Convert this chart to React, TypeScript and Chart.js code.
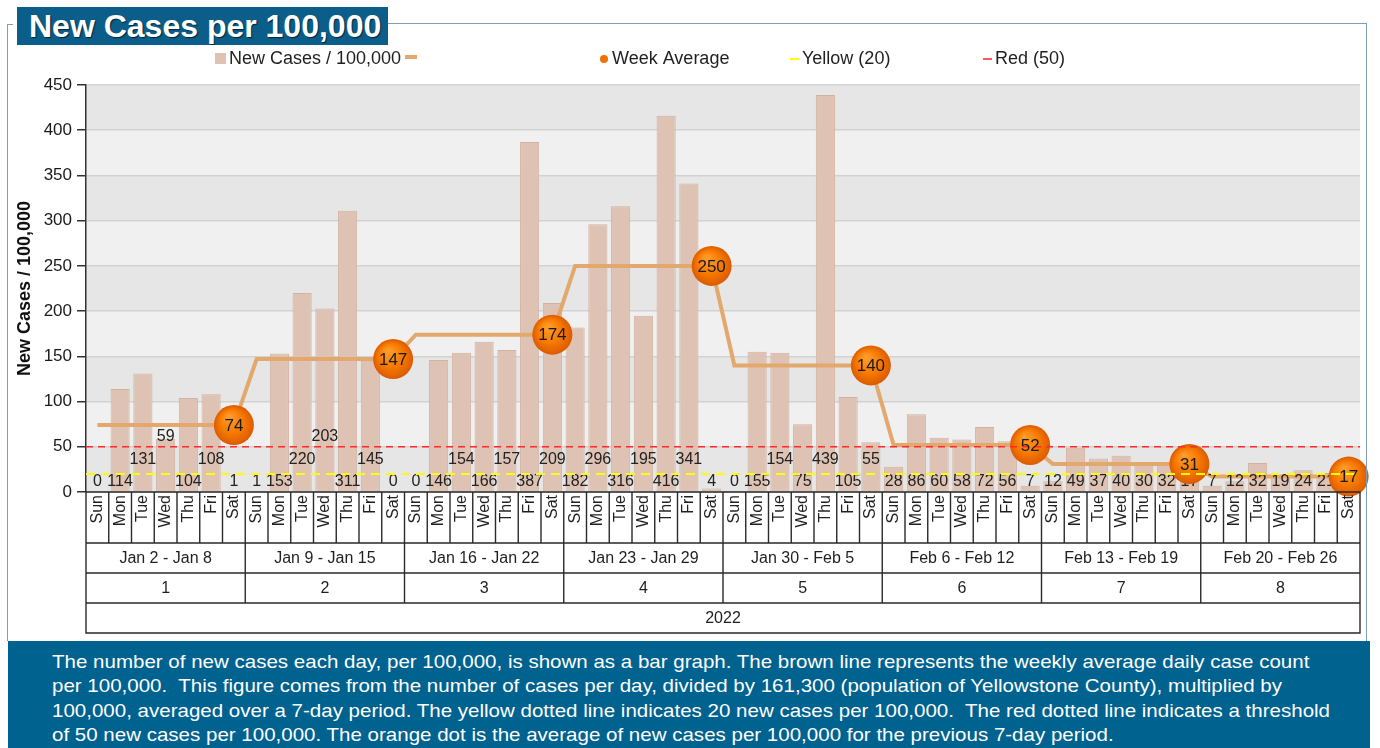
import React, { useEffect, useRef } from "react";
import { Chart, registerables } from "chart.js";

Chart.register(...registerables);

const FONT = '"Liberation Sans", Arial, Helvetica, sans-serif';

// ---------- data ----------
const dayNames = ["Sun", "Mon", "Tue", "Wed", "Thu", "Fri", "Sat"];
const weekRanges = [
  "Jan 2 - Jan 8",
  "Jan 9 - Jan 15",
  "Jan 16 - Jan 22",
  "Jan 23 - Jan 29",
  "Jan 30 - Feb 5",
  "Feb 6 - Feb 12",
  "Feb 13 - Feb 19",
  "Feb 20 - Feb 26",
];
const weekNumbers = ["1", "2", "3", "4", "5", "6", "7", "8"];
const yearLabel = "2022";

const dailyCases = [
  0, 114, 131, 59, 104, 108, 1,
  1, 153, 220, 203, 311, 145, 0,
  0, 146, 154, 166, 157, 387, 209,
  182, 296, 316, 195, 416, 341, 4,
  0, 155, 154, 75, 439, 105, 55,
  28, 86, 60, 58, 72, 56, 7,
  12, 49, 37, 40, 30, 32, 17,
  7, 12, 32, 19, 24, 21, 4,
];
const weekAverage = [74, 147, 174, 250, 140, 52, 31, 17];

// stacking tier of each day's value label (0 = lowest row)
const labelTier = [
  0, 0, 1, 2, 0, 1, 0,
  0, 0, 1, 2, 0, 1, 0,
  0, 0, 1, 0, 1, 0, 1,
  0, 1, 0, 1, 0, 1, 0,
  0, 0, 1, 0, 1, 0, 1,
  0, 0, 0, 0, 0, 0, 0,
  0, 0, 0, 0, 0, 0, 0,
  0, 0, 0, 0, 0, 0, 0,
];

const yellowThreshold = 20;
const redThreshold = 50;
const yMin = 0;
const yMax = 450;
const yStep = 50;

const legendLabels = ["New Cases / 100,000", "Week Average", "Yellow (20)", "Red (50)"];
const yAxisTitle = "New Cases / 100,000";
const chartTitle = "New Cases per 100,000";
const footerLines = [
  "The number of new cases each day, per 100,000, is shown as a bar graph. The brown line represents the weekly average daily case count",
  "per 100,000.  This figure comes from the number of cases per day, divided by 161,300 (population of Yellowstone County), multiplied by",
  "100,000, averaged over a 7-day period. The yellow dotted line indicates 20 new cases per 100,000.  The red dotted line indicates a threshold",
  "of 50 new cases per 100,000. The orange dot is the average of new cases per 100,000 for the previous 7-day period.",
];

// ---------- derived ----------
const categories = dailyCases.map((_, i) => `${weekRanges[Math.floor(i / 7)]} ${dayNames[i % 7]}`);
const avgSeries = dailyCases.map((_, i) => weekAverage[Math.floor(i / 7)]);

const BAR_COLOR = "#DEC3B4";
const BAR_BORDER = "#D2B2A2";
const LINE_COLOR = "#E3A86B";
const TEXT = "#1f1f1f";

const overlayPlugin = {
  id: "overlay",
  beforeDraw(chart: any) {
    const { ctx, chartArea, scales } = chart;
    const y = scales.y;
    ctx.save();
    for (let v = yMin; v < yMax; v += yStep) {
      const t = y.getPixelForValue(v + yStep);
      const b = y.getPixelForValue(v);
      ctx.fillStyle = ((v - yMin) / yStep) % 2 === 0 ? "#E6E6E6" : "#F0F0F0";
      ctx.fillRect(chartArea.left, t, chartArea.right - chartArea.left, b - t);
    }
    ctx.restore();
  },
  afterDatasetsDraw(chart: any) {
    const { ctx, chartArea, scales } = chart;
    const x = scales.x;
    const y = scales.y;
    const y0 = y.getPixelForValue(0);
    ctx.save();
    // daily value labels
    ctx.font = `16px ${FONT}`;
    ctx.fillStyle = "#222";
    ctx.textAlign = "center";
    ctx.textBaseline = "middle";
    dailyCases.forEach((v, i) => {
      ctx.fillText(String(v), x.getPixelForValue(i), y0 - 10 - labelTier[i] * 22.5);
    });
    // week-average dots
    const meta = chart.getDatasetMeta(1);
    meta.data.forEach((pt: any, i: number) => {
      if (i % 7 !== 6) return;
      const g = ctx.createRadialGradient(pt.x - 5, pt.y - 8, 2, pt.x, pt.y, 20);
      g.addColorStop(0, "#FF9A2A");
      g.addColorStop(0.55, "#F77A00");
      g.addColorStop(1, "#DC5A00");
      ctx.beginPath();
      ctx.arc(pt.x, pt.y, 20, 0, Math.PI * 2);
      ctx.fillStyle = g;
      ctx.fill();
    });
    // threshold lines
    const drawRef = (val: number, color: string, width: number, dash: number[]) => {
      const py = y.getPixelForValue(val);
      ctx.beginPath();
      ctx.setLineDash(dash);
      ctx.strokeStyle = color;
      ctx.lineWidth = width;
      ctx.moveTo(chartArea.left, py);
      ctx.lineTo(chartArea.right, py);
      ctx.stroke();
      ctx.setLineDash([]);
    };
    drawRef(redThreshold, "#FF2B2B", 1.6, [7, 5]);
    drawRef(yellowThreshold, "#FFFF00", 2, [9, 6]);
    // dot labels
    ctx.font = `17px ${FONT}`;
    ctx.fillStyle = "#1a1a1a";
    meta.data.forEach((pt: any, i: number) => {
      if (i % 7 !== 6) return;
      ctx.fillText(String(weekAverage[Math.floor(i / 7)]), pt.x, pt.y + 1);
    });
    ctx.restore();
  },
  afterDraw(chart: any) {
    const { ctx, chartArea, scales } = chart;
    const x = scales.x;
    const left = chartArea.left;
    const right = chartArea.right;
    const top = chartArea.bottom;
    ctx.save();

    // ---- legend ----
    const ly = 59;
    ctx.font = `18px ${FONT}`;
    ctx.textBaseline = "middle";
    ctx.textAlign = "left";
    ctx.fillStyle = BAR_COLOR;
    ctx.fillRect(215, 53, 11, 11);
    ctx.fillStyle = TEXT;
    ctx.fillText(legendLabels[0], 229, ly);
    ctx.strokeStyle = LINE_COLOR;
    ctx.lineWidth = 4;
    ctx.beginPath();
    ctx.moveTo(405, 57);
    ctx.lineTo(417, 57);
    ctx.stroke();
    ctx.fillStyle = "#F07000";
    ctx.beginPath();
    ctx.arc(604, 59, 4, 0, Math.PI * 2);
    ctx.fill();
    ctx.fillStyle = TEXT;
    ctx.fillText(legendLabels[1], 612, ly);
    ctx.lineWidth = 2;
    ctx.strokeStyle = "#FFFF00";
    ctx.beginPath();
    ctx.moveTo(790, 59);
    ctx.lineTo(799, 59);
    ctx.stroke();
    ctx.fillText(legendLabels[2], 802, ly);
    ctx.strokeStyle = "#FF5A5A";
    ctx.beginPath();
    ctx.moveTo(983, 59);
    ctx.lineTo(992, 59);
    ctx.stroke();
    ctx.fillText(legendLabels[3], 995, ly);

    // ---- multi-level category axis ----
    const rowDay = top + 51;
    const rowWeek = rowDay + 30;
    const rowNum = rowWeek + 30;
    const bottom = rowNum + 30;
    const n = dailyCases.length;
    const boundary = (i: number) => {
      if (i <= 0) return left;
      if (i >= n) return right;
      return (x.getPixelForValue(i - 1) + x.getPixelForValue(i)) / 2;
    };
    ctx.strokeStyle = "#2a2a2a";
    ctx.lineWidth = 1.4;
    ctx.beginPath();
    ctx.rect(left, top, right - left, bottom - top);
    ctx.moveTo(left, rowDay);
    ctx.lineTo(right, rowDay);
    ctx.moveTo(left, rowWeek);
    ctx.lineTo(right, rowWeek);
    ctx.moveTo(left, rowNum);
    ctx.lineTo(right, rowNum);
    for (let i = 1; i < n; i++) {
      const bx = boundary(i);
      ctx.moveTo(bx, top);
      ctx.lineTo(bx, i % 7 === 0 ? rowNum : rowDay);
    }
    ctx.stroke();

    ctx.fillStyle = TEXT;
    ctx.font = `16px ${FONT}`;
    for (let i = 0; i < n; i++) {
      ctx.save();
      ctx.translate(x.getPixelForValue(i), top + 3);
      ctx.rotate(-Math.PI / 2);
      ctx.textAlign = "right";
      ctx.textBaseline = "middle";
      ctx.fillText(dayNames[i % 7], 0, 0);
      ctx.restore();
    }
    ctx.textAlign = "center";
    ctx.textBaseline = "middle";
    for (let w = 0; w < weekRanges.length; w++) {
      const cx = (boundary(w * 7) + boundary(w * 7 + 7)) / 2;
      ctx.fillText(weekRanges[w], cx, (rowDay + rowWeek) / 2 + 1);
      ctx.fillText(weekNumbers[w], cx, (rowWeek + rowNum) / 2 + 1);
    }
    ctx.fillText(yearLabel, (left + right) / 2, (rowNum + bottom) / 2 + 1);
    ctx.restore();
  },
};

export default function App() {
  const canvasRef = useRef<HTMLCanvasElement | null>(null);

  useEffect(() => {
    if (!canvasRef.current) return;
    const chart = new Chart(canvasRef.current, {
      type: "bar",
      data: {
        labels: categories,
        datasets: [
          {
            type: "bar",
            label: legendLabels[0],
            data: dailyCases,
            backgroundColor: BAR_COLOR,
            borderColor: BAR_BORDER,
            borderWidth: 1,
            barPercentage: 0.84,
            categoryPercentage: 1,
            order: 1,
          },
          {
            type: "line",
            label: legendLabels[1],
            data: avgSeries,
            borderColor: LINE_COLOR,
            borderWidth: 4,
            pointRadius: 0,
            tension: 0,
            order: 0,
          },
        ],
      },
      options: {
        responsive: false,
        animation: false,
        devicePixelRatio: 1,
        layout: { padding: { left: 0, top: 85, right: 20, bottom: 256 } },
        plugins: {
          legend: { display: false },
          tooltip: { enabled: false },
        },
        scales: {
          x: { display: false, offset: true },
          y: {
            min: yMin,
            max: yMax,
            afterFit: (scale: any) => {
              scale.width = 86;
            },
            ticks: {
              stepSize: yStep,
              padding: 5,
              color: "#1a1a1a",
              font: { family: FONT, size: 17 },
            },
            grid: {
              color: "#D2D2D2",
              lineWidth: 1.5,
              tickLength: 9,
              tickColor: "#333",
            },
            border: { display: true, color: "#333", width: 1.5 },
            title: {
              display: true,
              text: yAxisTitle,
              color: "#111",
              font: { family: FONT, size: 18, weight: "bold" },
              padding: { top: 14, bottom: 0 },
            },
          },
        },
      },
      plugins: [overlayPlugin],
    } as any);
    return () => chart.destroy();
  }, []);

  return (
    <div
      style={{
        position: "fixed",
        left: 0,
        top: 0,
        width: 1380,
        height: 748,
        overflow: "hidden",
        background: "#fff",
        fontFamily: FONT,
      }}
    >
      <canvas
        ref={canvasRef}
        width={1380}
        height={748}
        style={{ position: "absolute", left: 0, top: 0, width: 1380, height: 748 }}
      />
      {/* frame */}
      <div style={{ position: "absolute", left: 388, top: 23, width: 979, height: 1, background: "#7E9DBB" }} />
      <div style={{ position: "absolute", left: 1366, top: 23, width: 1, height: 618, background: "#7E9DBB" }} />
      <div style={{ position: "absolute", left: 7, top: 24, width: 1, height: 617, background: "#7E9DBB" }} />
      <div style={{ position: "absolute", left: 7, top: 24, width: 6, height: 1, background: "#7E9DBB" }} />
      {/* title */}
      <div
        style={{
          position: "absolute",
          left: 17,
          top: 7,
          width: 371,
          height: 38,
          background: "#0B5E8A",
          color: "#fff",
          fontWeight: "bold",
          fontSize: 32,
          lineHeight: "39px",
          paddingLeft: 12,
          boxSizing: "border-box",
          textShadow: "1px 1px 1px #00243a",
          whiteSpace: "nowrap",
          overflow: "hidden",
        }}
      >
        {chartTitle}
      </div>
      {/* footer */}
      <div
        style={{
          position: "absolute",
          left: 8,
          top: 641,
          width: 1362,
          height: 107,
          background: "#00628F",
          overflow: "hidden",
        }}
      >
        <div
          style={{
            position: "absolute",
            left: 44,
            top: 9,
            color: "#fff",
            fontSize: 19,
            lineHeight: "24.3px",
            transform: "scaleX(1.08)",
            transformOrigin: "left top",
          }}
        >
          {footerLines.map((l, i) => (
            <div key={i} style={{ whiteSpace: "pre" }}>
              {l}
            </div>
          ))}
        </div>
      </div>
    </div>
  );
}
